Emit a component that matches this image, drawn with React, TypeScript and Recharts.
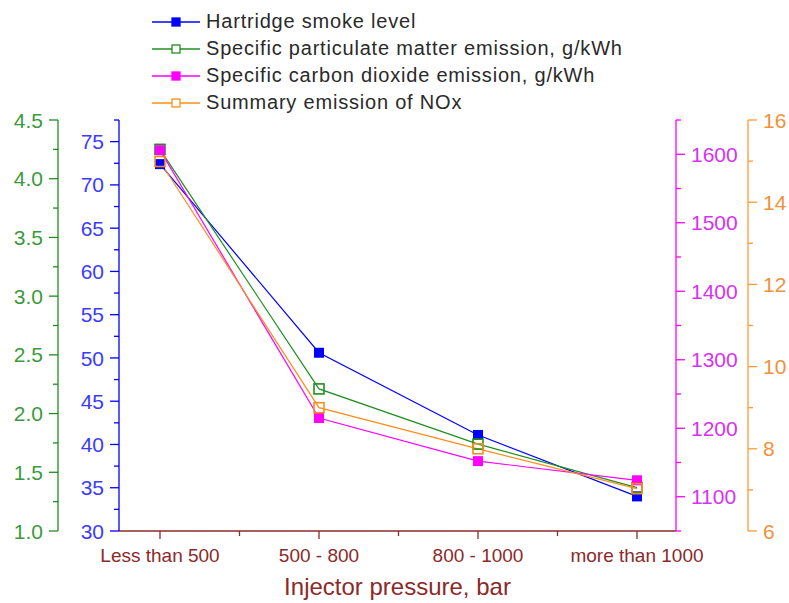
import { LineChart, Line, XAxis, YAxis } from 'recharts';

const categories = ['Less than 500', '500 - 800', '800 - 1000', 'more than 1000'];
const smoke = [72.4, 50.6, 41.1, 34.0];
const particulate = [4.25, 2.21, 1.74, 1.37];
const co2 = [1606, 1215, 1152, 1124];
const nox = [14.99, 9.0, 8.0, 7.03];

const smokeTicks = [30, 32.5, 35, 37.5, 40, 42.5, 45, 47.5, 50, 52.5, 55, 57.5, 60, 62.5, 65, 67.5, 70, 72.5, 75, 77.5];
const pmTicks = [1, 1.25, 1.5, 1.75, 2, 2.25, 2.5, 2.75, 3, 3.25, 3.5, 3.75, 4, 4.25, 4.5];
const co2Ticks = [1050, 1100, 1150, 1200, 1250, 1300, 1350, 1400, 1450, 1500, 1550, 1600, 1650];
const noxTicks = [6, 7, 8, 9, 10, 11, 12, 13, 14, 15, 16];

// axis ids: L1/R1 sit next to the plot, L2/R2 outside them
const series = [
  { key: 'smoke', axis: 'L1', name: 'Hartridge smoke level', color: '#0000ff', hollow: false },
  { key: 'pm', axis: 'L2', name: 'Specific particulate matter emission, g/kWh', color: '#1f8f1f', hollow: true },
  { key: 'co2', axis: 'R1', name: 'Specific carbon dioxide emission, g/kWh', color: '#ff00ff', hollow: false },
  { key: 'nox', axis: 'R2', name: 'Summary emission of NOx', color: '#ff8c1a', hollow: true },
];

const data = categories.map((c, i) => ({
  name: c,
  smoke: smoke[i],
  pm: particulate[i],
  co2: co2[i],
  nox: nox[i],
}));

const W = 789;
const H = 603;
const PLOT_LEFT = 119;
const PLOT_RIGHT = 676;
const X_PAD = 40;
const HALF_STEP = (PLOT_RIGHT - PLOT_LEFT - 2 * X_PAD) / (categories.length - 1) / 2;
const FONT = '"Liberation Sans", Arial, sans-serif';
const AXIS_RED = '#8b2a2a';

function makeYTick(side: 'left' | 'right', lineColor: string, textColor: string, isMajor: (v: number) => boolean, fmt: (v: number) => string) {
  return (props: any) => {
    const { x, y, payload } = props;
    const v = payload.value;
    const major = isMajor(v);
    const len = major ? 9 : 5;
    const dir = side === 'left' ? -1 : 1;
    return (
      <g>
        <line x1={x} y1={y} x2={x + dir * len} y2={y} stroke={lineColor} strokeWidth={1.3} />
        {major && (
          <text
            x={x + dir * (len + 6)}
            y={y}
            dy="0.36em"
            textAnchor={side === 'left' ? 'end' : 'start'}
            fill={textColor}
            fontSize={21}
            fontFamily={FONT}
          >
            {fmt(v)}
          </text>
        )}
      </g>
    );
  };
}

const XTick = (props: any) => {
  const { x, y, payload, index } = props;
  return (
    <g>
      <line x1={x} y1={y} x2={x} y2={y + 8} stroke={AXIS_RED} strokeWidth={1.3} />
      {index < categories.length - 1 && (
        <line x1={x + HALF_STEP} y1={y} x2={x + HALF_STEP} y2={y + 5} stroke={AXIS_RED} strokeWidth={1.3} />
      )}
      <text x={x} y={y + 31} textAnchor="middle" fill={AXIS_RED} fontSize={19} fontFamily={FONT}>
        {payload.value}
      </text>
    </g>
  );
};

function squareDot(color: string, hollow: boolean) {
  return (p: any) => {
    if (p.cx == null || p.cy == null) return <g key={p.index} />;
    return (
      <rect
        key={p.index}
        x={p.cx - 5}
        y={p.cy - 5}
        width={10}
        height={10}
        fill={hollow ? 'none' : color}
        stroke={color}
        strokeWidth={hollow ? 1.6 : 0}
      />
    );
  };
}

export default function App() {
  return (
    <div style={{ position: 'absolute', left: 0, top: 0, width: W, height: H, background: '#fff' }}>
      <LineChart width={W} height={H} data={data} margin={{ top: 120, right: 0, bottom: 0, left: 0 }}>
        <XAxis
          dataKey="name"
          height={72}
          padding={{ left: X_PAD + 1, right: X_PAD - 1 }}
          axisLine={{ stroke: AXIS_RED, strokeWidth: 1.3 }}
          tickLine={false}
          tickSize={0}
          tickMargin={0}
          tick={XTick}
          interval={0}
          label={{ value: 'Injector pressure, bar', position: 'insideBottom', offset: 8, fill: AXIS_RED, fontSize: 24, fontFamily: FONT }}
        />
        <YAxis
          yAxisId="L1"
          orientation="left"
          width={61}
          domain={[30, 77.5]}
          ticks={smokeTicks}
          interval={0}
          axisLine={{ stroke: '#0000ff', strokeWidth: 1.3 }}
          tickLine={false}
          tickSize={0}
          tickMargin={0}
          tick={makeYTick('left', '#0000ff', '#3b3bff', (v) => v % 5 === 0, (v) => String(v))}
        />
        <YAxis
          yAxisId="L2"
          orientation="left"
          width={58}
          domain={[1, 4.5]}
          ticks={pmTicks}
          interval={0}
          axisLine={{ stroke: '#1f8f1f', strokeWidth: 1.3 }}
          tickLine={false}
          tickSize={0}
          tickMargin={0}
          tick={makeYTick('left', '#1f8f1f', '#3c9a3c', (v) => Math.abs(v * 2 - Math.round(v * 2)) < 1e-6, (v) => v.toFixed(1))}
        />
        <YAxis
          yAxisId="R1"
          orientation="right"
          width={72}
          domain={[1050, 1650]}
          ticks={co2Ticks}
          interval={0}
          axisLine={{ stroke: '#ff00ff', strokeWidth: 1.3 }}
          tickLine={false}
          tickSize={0}
          tickMargin={0}
          tick={makeYTick('right', '#ff00ff', '#d633f0', (v) => v % 100 === 0, (v) => String(v))}
        />
        <YAxis
          yAxisId="R2"
          orientation="right"
          width={41}
          domain={[6, 16]}
          ticks={noxTicks}
          interval={0}
          axisLine={{ stroke: '#ff9933', strokeWidth: 1.3 }}
          tickLine={false}
          tickSize={0}
          tickMargin={0}
          tick={makeYTick('right', '#ff9933', '#f0923a', (v) => v % 2 === 0, (v) => String(v))}
        />
        {series.map((s) => (
          <Line
            key={s.key}
            yAxisId={s.axis}
            dataKey={s.key}
            name={s.name}
            stroke={s.color}
            strokeWidth={1.2}
            dot={squareDot(s.color, s.hollow)}
            activeDot={false}
            isAnimationActive={false}
          />
        ))}
      </LineChart>
      <div style={{ position: 'absolute', left: 150, top: 8, fontFamily: FONT, fontSize: 20, letterSpacing: 0.8, color: '#2a2a2a' }}>
        {series.map((s) => (
          <div key={s.key} style={{ display: 'flex', alignItems: 'center', height: 27 }}>
            <svg width={54} height={14} style={{ marginRight: 2 }}>
              <line x1={2} y1={7} x2={50} y2={7} stroke={s.color} strokeWidth={1.3} />
              <rect x={22} y={3} width={8} height={8} fill={s.hollow ? '#fff' : s.color} stroke={s.color} strokeWidth={1.3} />
            </svg>
            <span>{s.name}</span>
          </div>
        ))}
      </div>
    </div>
  );
}
